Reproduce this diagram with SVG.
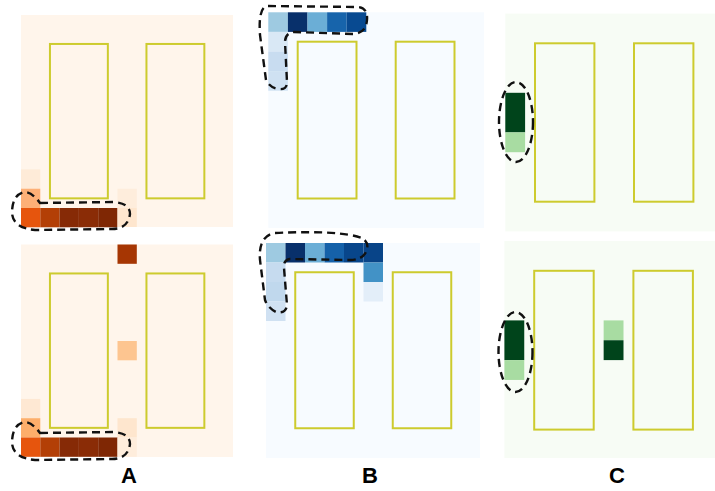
<svg xmlns="http://www.w3.org/2000/svg" width="715" height="491" viewBox="0 0 715 491">
<style>
.room{fill:none;stroke:#cdcb2e;stroke-width:2}
.hull{fill:none;stroke:#111;stroke-width:2.4;stroke-dasharray:8 5;stroke-linecap:butt}
.lbl{font-family:"Liberation Sans",Arial,sans-serif;font-weight:bold;font-size:22px;fill:#000;text-anchor:middle}
</style>
<rect width="715" height="491" fill="#fff"/>
<g id="panel-A-top">
<rect x="21" y="15" width="212" height="212" fill="#fff5eb"/>
<rect x="21" y="169.4" width="19.3" height="19.3" fill="#feebd8"/>
<rect x="21" y="188.7" width="19.3" height="19.3" fill="#fdb077"/>
<rect x="117.5" y="188.7" width="19.3" height="19.3" fill="#feeddc"/>
<rect x="21" y="208" width="19.3" height="19.3" fill="#e6550d"/>
<rect x="40.3" y="208" width="19.3" height="19.3" fill="#b33f06"/>
<rect x="59.6" y="208" width="19.3" height="19.3" fill="#862a06"/>
<rect x="78.9" y="208" width="19.3" height="19.3" fill="#8a2c06"/>
<rect x="98.2" y="208" width="19.3" height="19.3" fill="#7f2704"/>
<rect x="117.5" y="208" width="19.3" height="19" fill="#fee6ce"/>
<rect class="room" x="49.95" y="43.95" width="57.9" height="154.4"/>
<rect class="room" x="146.45" y="43.95" width="57.9" height="154.4"/>
<path class="hull" d="M40 203 L113 202 Q130 203 130 214 Q128 229 112 229 L35 230 Q13 228 12 213 Q12 195 24 192 Q32 192 40 203 Z"/>
</g>
<g id="panel-A-bottom">
<rect x="21" y="244.5" width="212" height="212.5" fill="#fff5eb"/>
<rect x="117.5" y="244.5" width="19.3" height="19.3" fill="#a63603"/>
<rect x="117.5" y="341" width="19.3" height="19.3" fill="#fdc590"/>
<rect x="21" y="398.9" width="19.3" height="19.3" fill="#fee8d3"/>
<rect x="21" y="418.2" width="19.3" height="19.3" fill="#fdae6b"/>
<rect x="117.5" y="418.2" width="19.3" height="19.3" fill="#fee6ce"/>
<rect x="21" y="437.5" width="19.3" height="19.3" fill="#e6550d"/>
<rect x="40.3" y="437.5" width="19.3" height="19.3" fill="#b33f06"/>
<rect x="59.6" y="437.5" width="19.3" height="19.3" fill="#862a06"/>
<rect x="78.9" y="437.5" width="19.3" height="19.3" fill="#8a2c06"/>
<rect x="98.2" y="437.5" width="19.3" height="19.3" fill="#7f2704"/>
<rect x="117.5" y="437.5" width="19.3" height="19.3" fill="#feeddc"/>
<rect class="room" x="49.95" y="273.45" width="57.9" height="154.4"/>
<rect class="room" x="146.45" y="273.45" width="57.9" height="154.4"/>
<path class="hull" d="M40 433 L113 432 Q130 433 130 444 Q128 459 112 459 L35 460 Q13 458 12 443 Q12 425 24 422 Q32 422 40 433 Z"/>
<text class="lbl" x="129" y="483">A</text>
</g>
<g id="panel-B-top">
<rect x="268.3" y="12.3" width="215.7" height="215.6" fill="#f7fbff"/>
<rect x="268.3" y="12.3" width="19.6" height="19.6" fill="#9ecae1"/>
<rect x="287.9" y="12.3" width="19.6" height="19.6" fill="#08306b"/>
<rect x="307.5" y="12.3" width="19.6" height="19.6" fill="#6baed6"/>
<rect x="327.1" y="12.3" width="19.6" height="19.6" fill="#1764ab"/>
<rect x="346.7" y="12.3" width="19.6" height="19.6" fill="#084a91"/>
<rect x="268.3" y="31.9" width="19.6" height="19.6" fill="#d9e8f5"/>
<rect x="268.3" y="51.5" width="19.6" height="19.6" fill="#c8dcf0"/>
<rect x="268.3" y="71.1" width="19.6" height="19.6" fill="#cfe1f2"/>
<rect class="room" x="297.7" y="41.7" width="58.8" height="156.8"/>
<rect class="room" x="395.7" y="41.7" width="58.8" height="156.8"/>
<path class="hull" d="M268 6 L358 7 Q368 8 367 20 Q366 33 354 34 L294 32 Q285 33 285 42 L287 82 Q287 90 279 89 Q270 88 266 80 L260 35 Q258 6 268 6 Z"/>
</g>
<g id="panel-B-bottom">
<rect x="266" y="243" width="214" height="215" fill="#f7fbff"/>
<rect x="266" y="243" width="19.5" height="19.5" fill="#9ecae1"/>
<rect x="285.5" y="243" width="19.5" height="19.5" fill="#08306b"/>
<rect x="305" y="243" width="19.5" height="19.5" fill="#6baed6"/>
<rect x="324.5" y="243" width="19.5" height="19.5" fill="#1561a9"/>
<rect x="344" y="243" width="19.5" height="19.5" fill="#08468b"/>
<rect x="363.5" y="243" width="19.5" height="19.5" fill="#084488"/>
<rect x="266" y="262.5" width="19.5" height="19.5" fill="#c6dbef"/>
<rect x="363.5" y="262.5" width="19.5" height="19.5" fill="#4292c6"/>
<rect x="266" y="282" width="19.5" height="19.5" fill="#c0d8ed"/>
<rect x="363.5" y="282" width="19.5" height="19.5" fill="#e3eef9"/>
<rect x="266" y="301.5" width="19.5" height="19.5" fill="#d0e1f2"/>
<rect class="room" x="295.25" y="272.25" width="58.5" height="156"/>
<rect class="room" x="392.75" y="272.25" width="58.5" height="156"/>
<path class="hull" d="M275 233 Q340 230 362 238 Q370 243 366 252 Q362 260 350 260 L290 259 Q283 260 284 268 L287 305 Q286 314 276 312 Q268 308 265 300 L260 260 Q258 236 275 233 Z"/>
<text class="lbl" x="370" y="483">B</text>
</g>
<g id="panel-C-top">
<rect x="505.3" y="13.6" width="210" height="217.8" fill="#f7fcf5"/>
<rect x="505.3" y="92.8" width="19.8" height="39.6" fill="#00441b"/>
<rect x="505.3" y="132.4" width="19.8" height="19.8" fill="#a8dca2"/>
<rect class="room" x="535" y="43.3" width="59.4" height="158.4"/>
<rect class="room" x="634" y="43.3" width="59.4" height="158.4"/>
<ellipse class="hull" cx="516" cy="122" rx="17" ry="40"/>
</g>
<g id="panel-C-bottom">
<rect x="504.4" y="241" width="211" height="217" fill="#f7fcf5"/>
<rect x="504.4" y="320.4" width="19.85" height="39.7" fill="#00441b"/>
<rect x="504.4" y="360.1" width="19.85" height="19.85" fill="#a8dca2"/>
<rect x="603.65" y="320.4" width="19.85" height="19.85" fill="#a8dca2"/>
<rect x="603.65" y="340.25" width="19.85" height="19.85" fill="#00441b"/>
<rect class="room" x="534.2" y="270.8" width="59.5" height="158.8"/>
<rect class="room" x="633.4" y="270.8" width="59.5" height="158.8"/>
<ellipse class="hull" cx="515.5" cy="352" rx="17" ry="40"/>
<text class="lbl" x="617" y="483">C</text>
</g>
</svg>
